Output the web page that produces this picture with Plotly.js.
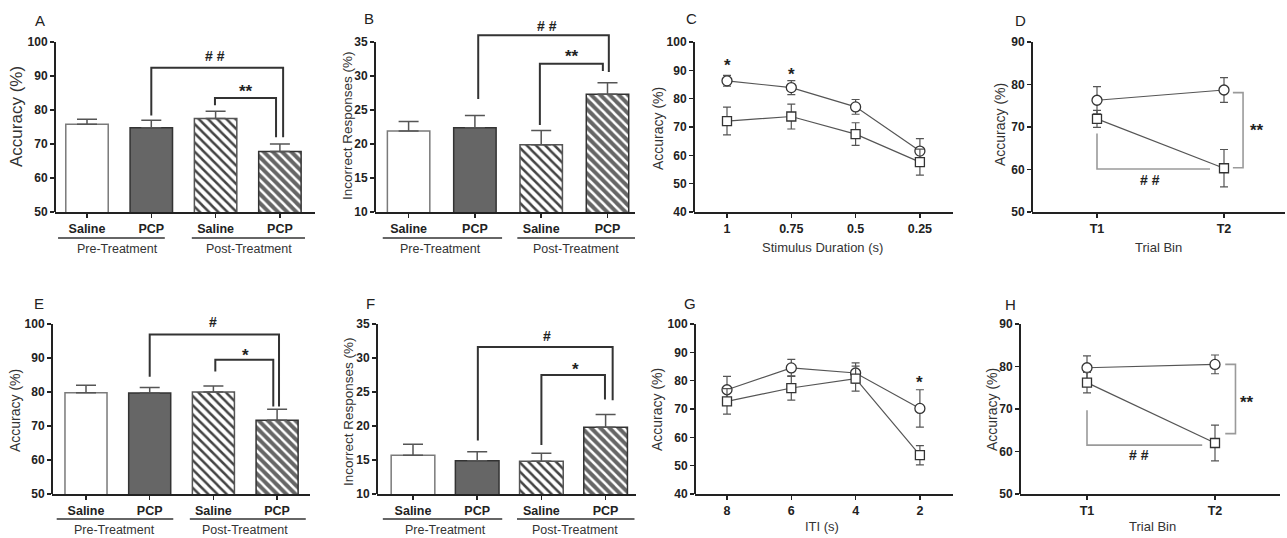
<!DOCTYPE html>
<html><head><meta charset="utf-8">
<script src="https://cdn.plot.ly/plotly-3.0.1.min.js"></script>
<style>html,body{margin:0;padding:0;background:#fff}#chart{width:1287px;height:538px}</style>
</head><body><div id="chart"></div>
<script>
// ---------------- DATA ----------------
const barCategories = ['Saline', 'PCP', 'Saline', 'PCP'];
const phaseLabels = ['Pre-Treatment', 'Post-Treatment'];

const accuracyA = [75.8, 74.8, 77.5, 67.8];
const accuracyA_sem = [1.5, 2.2, 2.1, 2.2];
const incorrectB = [21.9, 22.4, 19.9, 27.3];
const incorrectB_sem = [1.4, 1.8, 2.1, 1.7];
const accuracyE = [79.8, 79.7, 80.0, 71.7];
const accuracyE_sem = [2.2, 1.6, 1.8, 3.2];
const incorrectF = [15.7, 14.9, 14.8, 19.8];
const incorrectF_sem = [1.6, 1.3, 1.2, 1.9];

const stimulusDurations = ['1', '0.75', '0.5', '0.25'];
const circleC = [86.3, 83.9, 77.1, 61.5];
const circleC_sem = [1.9, 2.5, 2.6, 4.4];
const squareC = [72.1, 73.7, 67.5, 57.6];
const squareC_sem = [4.9, 4.4, 4.0, 4.6];

const itiValues = ['8', '6', '4', '2'];
const circleG = [76.8, 84.5, 82.7, 70.2];
const circleG_sem = [4.7, 3.0, 3.6, 6.6];
const squareG = [72.7, 77.4, 80.7, 53.7];
const squareG_sem = [4.5, 4.3, 4.4, 3.4];

const trialBins = ['T1', 'T2'];
const circleD = [76.3, 78.7];
const circleD_sem = [3.2, 2.9];
const squareD = [71.9, 60.3];
const squareD_sem = [2.0, 4.4];
const circleH = [79.7, 80.5];
const circleH_sem = [2.8, 2.2];
const squareH = [76.2, 62.0];
const squareH_sem = [2.4, 4.2];

// significance brackets (data coordinates) and labels
const bracketsA = [[[1, 78.4], [1, 92.4], [3.05, 92.4], [3.05, 72]], [[1.99, 81.4], [1.99, 83.5], [2.94, 83.5], [2.94, 72]]];
const sigA = [['# #', 1.99, 96.0], ['**', 2.47, 86.6]];
const bracketsB = [[[1.05, 26.6], [1.05, 36.0], [3.02, 36.0], [3.02, 30.6]], [[1.98, 22.8], [1.98, 31.8], [2.93, 31.8], [2.93, 30.75]]];
const sigB = [['# #', 2.09, 37.3], ['**', 2.47, 33.4]];
const bracketsE = [[[1.0, 84.5], [1.0, 96.9], [3.03, 96.9], [3.03, 75.7]], [[2.03, 86.0], [2.03, 89.5], [2.94, 89.5], [2.94, 75.7]]];
const sigE = [['#', 2.0, 100.5], ['*', 2.5, 91.8]];
const bracketsF = [[[1.01, 17.85], [1.01, 31.6], [3.11, 31.6], [3.11, 23.8]], [[2.0, 17.2], [2.0, 27.5], [2.99, 27.5], [2.99, 23.9]]];
const sigF = [['#', 2.08, 33.2], ['*', 2.53, 28.9]];
const sigC = [['*', 0, 93.2], ['*', 1, 90.0]];
const sigG = [['*', 3, 80.7]];
const bracketsD = [[[0, 68.5], [0, 60.1], [0.89, 60.1]], [[1.07, 78.1], [1.15, 78.1], [1.15, 60.4], [1.07, 60.4]]];
const sigD = [['# #', 0.42, 57.6], ['**', 1.26, 70.0]];
const bracketsH = [[[0, 69.7], [0, 61.5], [0.9, 61.5]], [[1.08, 80.5], [1.16, 80.5], [1.16, 64.2], [1.08, 64.2]]];
const sigH = [['# #', 0.41, 59.1], ['**', 1.25, 72.4]];

// ---------------- LAYOUT / STYLE ----------------
const W = 1287, H = 538;
const topRow = {py0: 42, py1: 212, ext: 12, groupLine: 238, groupText: 249};
const botRow = {py0: 324, py1: 494, ext: 292, groupLine: 519, groupText: 530};

const panels = [
  {letter: 'A', lx: 40, ly: 21, row: topRow, px0: 55, px1: 315, c0: 87, step: 64.3, y: [50, 100], dt: 10, kind: 'bar',
   vals: accuracyA, sem: accuracyA_sem, bw: 0.66, yTitle: 'Accuracy (%)', ytx: 17, yty: 117, yts: 17,
   groups: [[-0.45, 1.21, 0.47], [1.63, 3.39, 2.52]], brackets: bracketsA, sig: sigA},
  {letter: 'B', lx: 369, ly: 18, row: topRow, px0: 375, px1: 635, c0: 408.6, step: 66.3, y: [10, 35], dt: 5, kind: 'bar',
   vals: incorrectB, sem: incorrectB_sem, bw: 0.64, yTitle: 'Incorrect Responses (%)', ytx: 348, yty: 126, yts: 13.5,
   groups: [[-0.39, 1.41, 0.48], [1.64, 3.42, 2.53]], brackets: bracketsB, sig: sigB},
  {letter: 'C', lx: 691, ly: 18, row: topRow, px0: 694, px1: 953, c0: 727, step: 64.3, y: [40, 100], dt: 10, kind: 'line',
   cats: stimulusDurations, circ: circleC, circE: circleC_sem, sq: squareC, sqE: squareC_sem,
   yTitle: 'Accuracy (%)', ytx: 658, yty: 129, yts: 14, xTitle: 'Stimulus Duration (s)', xtx: 822, xty: 247, sig: sigC, brackets: []},
  {letter: 'D', lx: 1020, ly: 21, row: topRow, px0: 1032, px1: 1285, c0: 1097, step: 127, y: [50, 90], dt: 10, kind: 'line',
   cats: trialBins, circ: circleD, circE: circleD_sem, sq: squareD, sqE: squareD_sem,
   yTitle: 'Accuracy (%)', ytx: 1000, yty: 125, yts: 14, xTitle: 'Trial Bin', xtx: 1158, xty: 247, sig: sigD, brackets: bracketsD, brColor: '#9a9a9a'},
  {letter: 'E', lx: 39, ly: 303, row: botRow, px0: 52, px1: 310, c0: 86, step: 63.7, y: [50, 100], dt: 10, kind: 'bar',
   vals: accuracyE, sem: accuracyE_sem, bw: 0.66, yTitle: 'Accuracy (%)', ytx: 15, yty: 411, yts: 14,
   groups: [[-0.46, 1.37, 0.44], [1.63, 3.45, 2.5]], brackets: bracketsE, sig: sigE},
  {letter: 'F', lx: 370, ly: 303, row: botRow, px0: 377, px1: 636, c0: 413, step: 64.2, y: [10, 35], dt: 5, kind: 'bar',
   vals: incorrectF, sem: incorrectF_sem, bw: 0.68, yTitle: 'Incorrect Responses (%)', ytx: 348, yty: 412, yts: 13.5,
   groups: [[-0.47, 1.39, 0.51], [1.62, 3.45, 2.53]], brackets: bracketsF, sig: sigF},
  {letter: 'G', lx: 690, ly: 303, row: botRow, px0: 695, px1: 953, c0: 727, step: 64.3, y: [40, 100], dt: 10, kind: 'line',
   cats: itiValues, circ: circleG, circE: circleG_sem, sq: squareG, sqE: squareG_sem,
   yTitle: 'Accuracy (%)', ytx: 657, yty: 410, yts: 14, xTitle: 'ITI (s)', xtx: 822, xty: 526, sig: sigG, brackets: []},
  {letter: 'H', lx: 1010, ly: 304, row: botRow, px0: 1020, px1: 1280, c0: 1087, step: 128, y: [50, 90], dt: 10, kind: 'line',
   cats: trialBins, circ: circleH, circE: circleH_sem, sq: squareH, sqE: squareH_sem,
   yTitle: 'Accuracy (%)', ytx: 992, yty: 410, yts: 14, xTitle: 'Trial Bin', xtx: 1152, xty: 526, sig: sigH, brackets: bracketsH, brColor: '#9a9a9a'}
];

const FONT = 'Liberation Sans, Arial, sans-serif';
const INK = '#222';
const data = [], shapes = [], annotations = [];
const layout = {
  width: W, height: H, margin: {l: 0, r: 0, t: 0, b: 0},
  paper_bgcolor: '#fff', plot_bgcolor: 'rgba(0,0,0,0)', showlegend: false,
  font: {family: FONT, color: INK}
};

const px2x = v => v / W;
const py2y = v => 1 - v / H;

panels.forEach((p, i) => {
  const sfx = i === 0 ? '' : String(i + 1);
  const xa = 'x' + sfx, ya = 'y' + sfx;
  const r = p.row;
  const cats = p.kind === 'bar' ? barCategories : p.cats;
  const idx = cats.map((_, k) => k);
  const yMaxExt = p.y[0] + (p.y[1] - p.y[0]) * (r.py1 - r.ext) / (r.py1 - r.py0);
  const yTicks = [];
  for (let v = p.y[0]; v <= p.y[1] + 1e-9; v += p.dt) yTicks.push(v);

  layout['xaxis' + sfx] = {
    domain: [px2x(p.px0), px2x(p.px1)],
    range: [(p.px0 - p.c0) / p.step, (p.px1 - p.c0) / p.step],
    anchor: ya, type: 'linear', tickmode: 'array', tickvals: idx, ticktext: cats,
    showline: true, linecolor: INK, linewidth: 2, ticks: 'outside', ticklen: 4, tickwidth: 1.5, tickcolor: INK,
    showgrid: false, zeroline: false, fixedrange: true,
    tickfont: {family: FONT, size: 12.5, color: INK, weight: 'bold'}
  };
  layout['yaxis' + sfx] = {
    domain: [py2y(r.py1), py2y(r.ext)],
    range: [p.y[0], yMaxExt], anchor: xa, tickmode: 'array', tickvals: yTicks,
    showline: false, ticks: 'outside', ticklen: 4, tickwidth: 1.5, tickcolor: INK,
    showgrid: false, zeroline: false, fixedrange: true,
    tickfont: {family: FONT, size: 12, color: INK, weight: 'bold'}
  };
  // y axis line up to the last tick
  shapes.push({type: 'line', xref: xa + ' domain', yref: ya, x0: 0, x1: 0, y0: p.y[0], y1: p.y[1],
               line: {color: INK, width: 2}});

  if (p.kind === 'bar') {
    data.push({
      type: 'bar', x: idx, y: p.vals, xaxis: xa, yaxis: ya, width: p.bw,
      marker: {
        color: ['#ffffff', '#666666', '#ffffff', '#666666'],
        line: {color: ['#7a7a7a', '#333333', '#555555', '#333333'], width: 1.5},
        pattern: {shape: ['', '', '\\', '\\'], fillmode: 'overlay',
                  fgcolor: '#111111', fgopacity: 1, size: 6.5, solidity: 0.38}
      },
      error_y: {type: 'data', symmetric: false, array: p.sem, arrayminus: p.sem.map(() => 0),
                color: '#555', thickness: 1.5, width: 10},
      hoverinfo: 'skip'
    });
    p.groups.forEach((g, k) => {
      shapes.push({type: 'line', xref: xa, yref: 'paper', x0: g[0], x1: g[1], y0: py2y(r.groupLine), y1: py2y(r.groupLine),
                   line: {color: '#333', width: 1.5}});
      annotations.push({xref: xa, yref: 'paper', x: g[2], y: py2y(r.groupText), text: phaseLabels[k], showarrow: false,
                        xanchor: 'center', yanchor: 'middle', font: {family: FONT, size: 12.5, color: '#333'}});
    });
  } else {
    const errStyle = {color: '#555', thickness: 1.2, width: 4};
    data.push({
      type: 'scatter', mode: 'lines+markers', x: idx, y: p.circ, xaxis: xa, yaxis: ya, name: 'circle',
      line: {color: '#555', width: 1.2},
      marker: {symbol: 'circle', size: 10, color: '#fff', line: {color: '#333', width: 1.3}},
      error_y: Object.assign({type: 'data', array: p.circE}, errStyle), hoverinfo: 'skip'
    });
    data.push({
      type: 'scatter', mode: 'lines+markers', x: idx, y: p.sq, xaxis: xa, yaxis: ya, name: 'square',
      line: {color: '#555', width: 1.2},
      marker: {symbol: 'square', size: 9, color: '#fff', line: {color: '#333', width: 1.3}},
      error_y: Object.assign({type: 'data', array: p.sqE}, errStyle), hoverinfo: 'skip'
    });
    annotations.push({xref: 'paper', yref: 'paper', x: px2x(p.xtx), y: py2y(p.xty), text: p.xTitle, showarrow: false,
                      xanchor: 'center', yanchor: 'middle', font: {family: FONT, size: 13, color: '#333'}});
  }

  // brackets
  (p.brackets || []).forEach(b => {
    const path = b.map((pt, k) => (k === 0 ? 'M' : 'L') + pt[0] + ',' + pt[1]).join(' ');
    shapes.push({type: 'path', xref: xa, yref: ya, path: path, fillcolor: 'rgba(0,0,0,0)',
                 line: {color: p.brColor || '#333', width: p.brColor ? 1.6 : 2}});
  });
  // significance marks
  (p.sig || []).forEach(s => {
    const star = s[0].indexOf('*') >= 0;
    annotations.push({xref: xa, yref: ya, x: s[1], y: s[2], text: s[0], showarrow: false,
                      xanchor: 'center', yanchor: 'middle', yshift: star ? -4 : 0,
                      font: {family: FONT, size: star ? 17 : 14, color: INK, weight: 'bold'}});
  });

  // panel letter and y title
  annotations.push({xref: 'paper', yref: 'paper', x: px2x(p.lx), y: py2y(p.ly), text: p.letter, showarrow: false,
                    xanchor: 'center', yanchor: 'middle', font: {family: FONT, size: 15, color: INK}});
  annotations.push({xref: 'paper', yref: 'paper', x: px2x(p.ytx), y: py2y(p.yty), text: p.yTitle, showarrow: false,
                    textangle: -90, xanchor: 'center', yanchor: 'middle', font: {family: FONT, size: p.yts, color: '#333'}});
});

layout.shapes = shapes;
layout.annotations = annotations;
Plotly.newPlot('chart', data, layout, {staticPlot: true, displayModeBar: false});
</script>
</body></html>
